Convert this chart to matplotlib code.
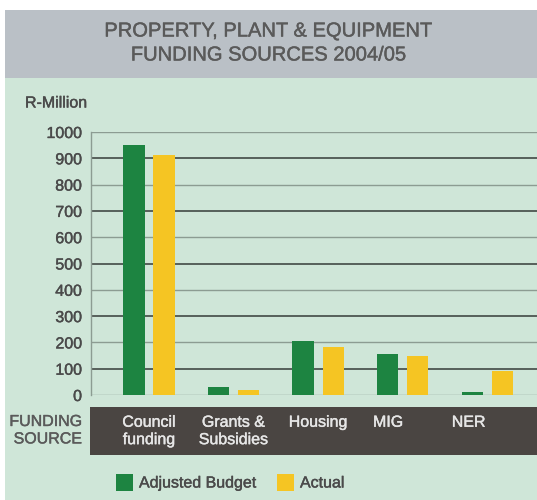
import matplotlib.pyplot as plt
import matplotlib.patheffects as pe
from matplotlib.patches import Rectangle
import numpy as np

plt.rcParams['font.family'] = ['Liberation Sans', 'DejaVu Sans']

# data
sources = ['Council\nfunding', 'Grants &\nSubsidies', 'Housing', 'MIG', 'NER']
adjusted_budget = [950, 32, 205, 156, 10]
actual = [912, 19, 184, 148, 92]
yticks = list(range(0, 1001, 100))

W, H = 537, 500
fig = plt.figure(figsize=(W / 100, H / 100), dpi=100)
fig.patch.set_facecolor('white')


def box(x0, y0, x1, y1, color):
    # rectangle given in image pixels (y from the top)
    fig.patches.append(Rectangle((x0 / W, 1 - y1 / H), (x1 - x0) / W, (y1 - y0) / H,
                                 transform=fig.transFigure, facecolor=color,
                                 edgecolor='none', zorder=0))


def heavy(color):
    # the scanned text looks a little heavier than regular weight
    return [pe.withStroke(linewidth=0.3, foreground=color)]


title_c = '#5a5a5a'
text_c = '#4a4a4a'

box(5, 10, 537, 78, '#bac0c6')      # title header
box(5, 78, 537, 500, '#cfe6d8')     # green panel
box(90, 407, 537, 455, '#4a4542')   # dark label band

fig.text(268 / W, 1 - 31 / H, 'PROPERTY, PLANT & EQUIPMENT', ha='center', va='center',
         fontsize=14.5, color=title_c, path_effects=heavy(title_c))
fig.text(268 / W, 1 - 55 / H, 'FUNDING SOURCES 2004/05', ha='center', va='center',
         fontsize=14.5, color=title_c, path_effects=heavy(title_c))
fig.text(25 / W, 1 - 103 / H, 'R-Million', ha='left', va='center', fontsize=11.5,
         color=text_c, path_effects=heavy(text_c))

ax = fig.add_axes([91 / W, 1 - 395 / H, 446 / W, 263 / H])
ax.set_zorder(2)
ax.set_facecolor('none')

x = np.arange(len(sources))
w = 0.25
off = 0.178
ax.bar(x - off, adjusted_budget, w, color='#1d8441', zorder=3)
ax.bar(x + off, actual, w, color='#f5c523', zorder=3)

ax.set_xlim(-0.686, 4.59)
ax.set_ylim(0, 1000)
ax.set_yticks(yticks)
ax.set_yticklabels([str(t) for t in yticks], fontsize=11.5, color=text_c)
for lab in ax.get_yticklabels():
    lab.set_path_effects(heavy(text_c))
ax.tick_params(axis='y', length=0, pad=6.5)
ax.set_xticks([])

for t in yticks:
    dark = (t // 100) % 2 == 1
    ax.axhline(t, color='#56605a' if dark else '#8c9c92', lw=1.4 if dark else 1.0, zorder=1)

for s in ['top', 'right', 'bottom']:
    ax.spines[s].set_visible(False)
ax.spines['left'].set_color('#8c9c92')
ax.spines['left'].set_linewidth(1.0)

# category labels in the dark band
nudge = [0, 0, 0, -0.17, -0.22]
for i, s in enumerate(sources):
    ax.text(i + nudge[i], -0.075, s, transform=ax.get_xaxis_transform(), ha='center',
            va='top', fontsize=11.5, color='#e6e6e6', linespacing=1.2, clip_on=False,
            path_effects=heavy('#e6e6e6'))

fig.text(82 / W, 1 - 414 / H, 'FUNDING\nSOURCE', ha='right', va='top', fontsize=11.5,
         color=title_c, linespacing=1.2, path_effects=heavy(title_c))

# legend
box(116, 474, 133, 491, '#1d8441')
fig.text(139 / W, 1 - 483 / H, 'Adjusted Budget', ha='left', va='center', fontsize=11.5,
         color=text_c, path_effects=heavy(text_c))
box(277, 474, 294, 491, '#f5c523')
fig.text(300 / W, 1 - 483 / H, 'Actual', ha='left', va='center', fontsize=11.5,
         color=text_c, path_effects=heavy(text_c))

fig.savefig('out.png', dpi=100)
